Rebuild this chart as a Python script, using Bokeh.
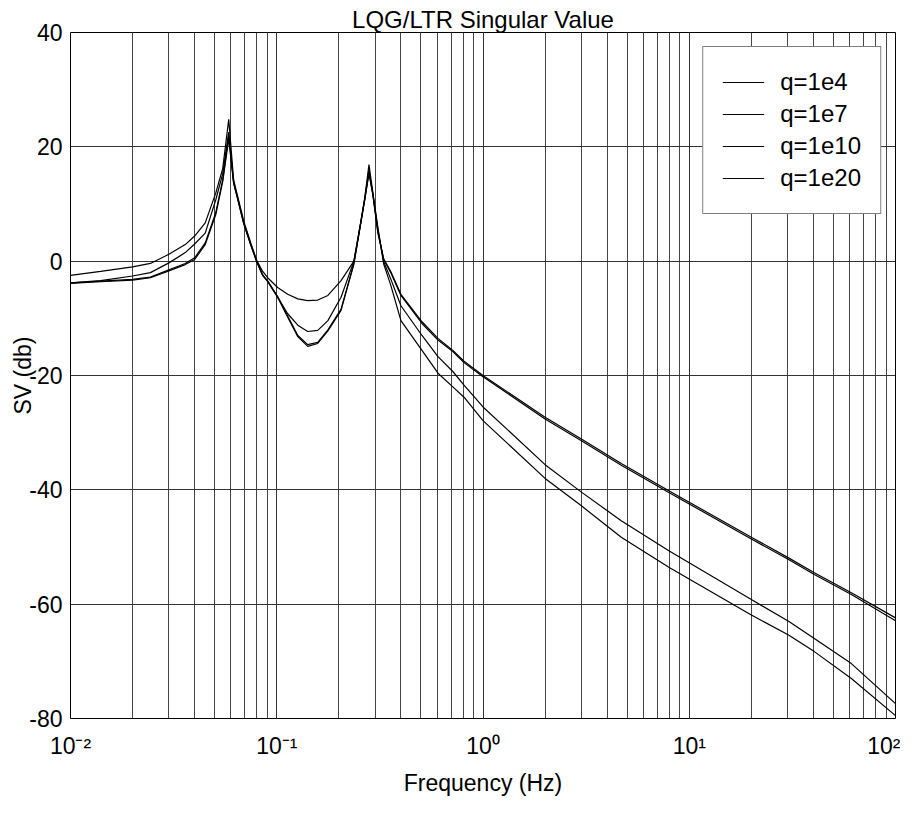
from bokeh.plotting import figure
from bokeh.models import Range1d, FixedTicker, LogTicker, CustomJSTickFormatter, Legend, LegendItem
from bokeh.embed import file_html
from bokeh.resources import INLINE

# ---- data ----
freq = [0.01, 0.014, 0.02, 0.0244, 0.03, 0.036, 0.04, 0.045, 0.0506, 0.0547,
        0.0585, 0.0618, 0.0647, 0.0692, 0.0748, 0.08, 0.0855, 0.0904, 0.101, 0.113,
        0.1265, 0.1413, 0.158, 0.177, 0.205, 0.2366, 0.256, 0.2673, 0.28, 0.2924,
        0.309, 0.33, 0.357, 0.40, 0.506, 0.605, 0.714, 0.809, 1.0, 2.0,
        3.0, 4.68, 8.0, 20.0, 30.3, 40.4, 61.1, 100.0]

sv_q1e4 = [-2.5, -1.8, -1.0, -0.4, 1.2, 2.9, 4.4, 6.7, 11.9, 16.2,
           24.8, 14.2, 11.3, 7.0, 3.2, 0.1, -1.8, -2.9, -4.6, -5.8,
           -6.6, -6.9, -6.8, -6.0, -3.4, 0.0, 7.0, 11.2, 16.9, 12.0,
           6.0, -0.5, -4.2, -10.4, -15.6, -19.6, -22.0, -23.8, -27.9, -38.0,
           -42.8, -48.3, -53.6, -61.9, -65.4, -68.3, -73.0, -79.5]

sv_q1e7 = [-3.8, -3.4, -2.6, -2.0, -0.3, 1.5, 3.0, 4.9, 10.7, 15.3,
           22.6, 13.8, 11.0, 6.7, 3.0, 0.0, -2.5, -3.5, -6.3, -9.2,
           -11.2, -12.3, -12.1, -10.4, -6.3, 0.0, 7.0, 11.0, 16.0, 11.8,
           5.6, -0.1, -3.1, -7.8, -13.0, -16.7, -19.3, -21.7, -25.5, -35.6,
           -40.4, -45.4, -50.7, -59.2, -63.0, -66.0, -70.4, -77.4]

sv_q1e10 = [-3.9, -3.6, -3.3, -2.9, -1.7, -0.6, 0.3, 2.9, 8.1, 13.9,
            21.4, 13.6, 10.8, 6.5, 2.8, -0.1, -2.5, -3.6, -6.3, -9.8,
            -13.2, -14.9, -14.4, -12.2, -8.6, -0.5, 6.8, 10.8, 15.3, 11.6,
            5.0, 0.3, -2.0, -6.0, -10.9, -13.8, -15.8, -17.75, -20.2, -27.6,
            -31.4, -35.7, -40.5, -48.6, -52.2, -54.8, -58.3, -62.9]

sv_q1e20 = [-3.8, -3.5, -3.2, -2.8, -1.5, -0.4, 0.6, 3.2, 8.5, 14.2,
            22.0, 13.7, 10.9, 6.6, 2.9, -0.1, -2.4, -3.5, -6.2, -9.6,
            -13.0, -14.6, -14.2, -12.0, -8.4, -0.4, 6.9, 10.9, 15.6, 11.7,
            5.2, 0.4, -1.8, -5.8, -10.6, -13.5, -15.6, -17.5, -20.0, -27.3,
            -31.1, -35.4, -40.2, -48.3, -51.9, -54.5, -58.0, -62.4]

series_labels = ["q=1e4", "q=1e7", "q=1e10", "q=1e20"]
y_ticks = [-80, -60, -40, -20, 0, 20, 40]

FONT = "Liberation Sans"

p = figure(width=900, height=801, x_axis_type="log",
           x_range=Range1d(0.01, 100), y_range=Range1d(-80, 40),
           output_backend="svg", toolbar_location=None,
           title="LQG/LTR Singular Value",
           min_border_left=70, min_border_right=5,
           min_border_top=32, min_border_bottom=83)

p.title.align = "center"
p.title.text_font = FONT
p.title.text_font_size = "24px"
p.title.text_font_style = "normal"
p.title.text_color = "black"
p.title.standoff = 0

p.outline_line_color = "black"
p.outline_line_width = 1

# axes
p.xaxis.ticker = LogTicker(num_minor_ticks=10)
p.xaxis.formatter = CustomJSTickFormatter(code="""
const sup = {'-':'\u207b','0':'\u2070','1':'\u00b9','2':'\u00b2','3':'\u00b3',
             '4':'\u2074','5':'\u2075','6':'\u2076','7':'\u2077','8':'\u2078','9':'\u2079'};
const e = Math.round(Math.log10(tick));
return '10' + String(e).split('').map(c => sup[c]).join('');
""")
p.yaxis.ticker = FixedTicker(ticks=y_ticks)
p.yaxis.formatter = CustomJSTickFormatter(code="return String(tick);")

for ax in (p.xaxis[0], p.yaxis[0]):
    ax.axis_line_color = None
    ax.major_tick_line_color = None
    ax.minor_tick_line_color = None
    ax.major_tick_out = 0
    ax.minor_tick_out = 0
    ax.major_label_text_font = FONT
    ax.major_label_text_font_size = "23px"
    ax.major_label_text_color = "black"
    ax.axis_label_text_font = FONT
    ax.axis_label_text_font_style = "normal"
    ax.axis_label_text_color = "black"

p.xaxis.axis_label = "Frequency (Hz)"
p.xaxis.axis_label_text_font_size = "23px"
p.xaxis.major_label_standoff = 14
p.xaxis.axis_label_standoff = 8

p.yaxis.axis_label = "SV (db)"
p.yaxis.axis_label_text_font_size = "23px"
p.yaxis.major_label_standoff = 8
p.yaxis.axis_label_standoff = -10

# grids
p.xgrid.grid_line_color = "#333333"
p.xgrid.grid_line_width = 1
p.xgrid.minor_grid_line_color = "#444444"
p.xgrid.minor_grid_line_width = 1
p.ygrid.grid_line_color = "#333333"
p.ygrid.grid_line_width = 1

# curves
renderers = []
for ys in (sv_q1e4, sv_q1e7, sv_q1e10, sv_q1e20):
    r = p.line(freq, ys, line_color="black", line_width=1.2)
    renderers.append(r)

legend = Legend(items=[LegendItem(label=lab, renderers=[r]) for lab, r in zip(series_labels, renderers)],
                location="top_right")
legend.border_line_color = "black"
legend.border_line_width = 1
legend.label_text_font = FONT
legend.label_text_font_size = "24px"
legend.label_text_color = "black"
legend.glyph_width = 42
legend.glyph_height = 4
legend.label_height = 32
legend.spacing = 0
legend.padding = 19
legend.margin = 14
legend.label_standoff = 16
legend.background_fill_color = "white"
legend.background_fill_alpha = 1
p.add_layout(legend)

p.background_fill_color = "white"
p.border_fill_color = "white"

open("out.html", "w").write(file_html(p, INLINE))
